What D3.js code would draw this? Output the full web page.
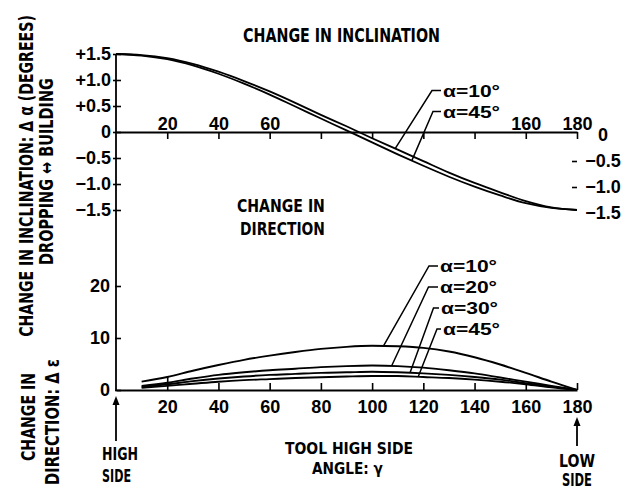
<!DOCTYPE html>
<html><head><meta charset="utf-8">
<script src="https://cdn.jsdelivr.net/npm/d3@7"></script>
<style>body{margin:0;background:#fff} svg{display:block}</style>
</head><body><svg id="c" width="629" height="490"></svg>
<script>
// ---------- DATA ----------
const gammaTop = [0,10,20,30,40,50,60,70,80,90,100,110,120,130,140,150,160,170,180];
const inclA10 = [1.5,1.48,1.42,1.31,1.16,0.98,0.78,0.56,0.33,0.11,-0.12,-0.34,-0.56,-0.78,-0.98,-1.16,-1.33,-1.45,-1.5];
const inclA45 = [1.5,1.47,1.40,1.28,1.12,0.93,0.72,0.49,0.26,0.03,-0.20,-0.43,-0.65,-0.86,-1.05,-1.22,-1.37,-1.46,-1.5];
const gammaBot = [10,20,30,40,50,60,70,80,90,100,110,120,130,140,150,160,170,180];
const dirA10 = [1.6,2.5,3.7,4.8,5.8,6.6,7.3,7.9,8.3,8.5,8.4,8.1,7.4,6.3,4.9,3.3,1.6,0];
const dirA20 = [0.8,1.4,2.2,2.9,3.4,3.8,4.1,4.4,4.6,4.7,4.6,4.3,3.8,3.2,2.4,1.6,0.8,0];
const dirA30 = [0.6,1.1,1.7,2.2,2.6,2.9,3.1,3.3,3.4,3.5,3.4,3.2,2.9,2.5,2.0,1.3,0.65,0];
const dirA45 = [0.4,0.8,1.2,1.6,1.9,2.1,2.3,2.45,2.6,2.7,2.7,2.5,2.3,2.0,1.6,1.1,0.5,0];
const inclLabels = ["α=10°","α=45°"];
const dirLabels = ["α=10°","α=20°","α=30°","α=45°"];
const topXTicks = [20,40,60,80,100,120,140,160,180];
const topXLabels = [20,40,60,160,180];
const inclTicks = [1.5,1,0.5,0,-0.5,-1,-1.5];
const inclTickLabels = ["+1.5","+1.0","+0.5","0","−0.5","−1.0","−1.5"];
const inclRightTicks = [0,-0.5,-1,-1.5];
const inclRightLabels = ["0","−0.5","−1.0","−1.5"];
const dirTicks = [0,10,20];
const botXTicks = [20,40,60,80,100,120,140,160,180];

// ---------- LAYOUT ----------
const svg = d3.select("#c");
const NUM = "'Liberation Sans',Arial,sans-serif";
const TXT = "'Liberation Sans Narrow','Arial Narrow','DejaVu Sans Condensed','Liberation Sans',sans-serif";
const x = d3.scaleLinear([0,180],[116,577]);
const yTop = d3.scaleLinear([-1.5,1.5],[210,54]);
const yBot = d3.scaleLinear([0,20],[390,286]);

function styleAxis(g){
  g.selectAll("text").attr("font-family",NUM).attr("font-weight","bold").attr("font-size",18).attr("fill","#000");
  g.selectAll("line").attr("stroke","#000").attr("stroke-width",1.6);
  g.selectAll("path.domain").attr("stroke","#000").attr("stroke-width",1.8);
}

// vertical left axis line (continuous)
svg.append("line").attr("x1",116).attr("x2",116).attr("y1",yTop(1.5)).attr("y2",yBot(0))
  .attr("stroke","#000").attr("stroke-width",1.8);

// top panel horizontal axis (ticks down)
const gTopX = svg.append("g").attr("transform",`translate(0,${yTop(0)})`)
  .call(d3.axisBottom(x).tickValues(topXTicks).tickSizeInner(7).tickSizeOuter(0).tickFormat(""));
styleAxis(gTopX);
const gTopXL = svg.append("g").attr("transform",`translate(0,${yTop(0)})`)
  .call(d3.axisTop(x).tickValues(topXLabels).tickSize(0).tickPadding(2).tickFormat(d3.format("d")));
gTopXL.select(".domain").remove();
styleAxis(gTopXL);

// top panel left ticks
const gTopY = svg.append("g").attr("transform","translate(121,0)")
  .call(d3.axisLeft(yTop).tickValues(inclTicks).tickSize(8).tickPadding(2)
    .tickFormat((d,i)=>inclTickLabels[i]));
gTopY.select(".domain").remove();
styleAxis(gTopY);

// top panel right labels
const gTopR = svg.append("g").attr("transform","translate(572,3)")
  .call(d3.axisRight(yTop).tickValues(inclRightTicks).tickSize(5)
    .tickFormat((d,i)=>inclRightLabels[i]));
gTopR.select(".domain").remove();
styleAxis(gTopR);
gTopR.selectAll("text").attr("text-anchor","middle").attr("x",31);
gTopR.selectAll(".tick line").filter(d=>d===0||d===-1.5).remove();

// bottom panel x axis (ticks up)
const gBotX = svg.append("g").attr("transform",`translate(0,${yBot(0)})`)
  .call(d3.axisBottom(x).tickValues(botXTicks).tickSizeInner(-7).tickSizeOuter(0).tickPadding(10)
    .tickFormat(d3.format("d")));
styleAxis(gBotX);
gBotX.selectAll(".tick line").filter(d=>d===20).attr("y2",-13);

// bottom panel y axis
const gBotY = svg.append("g").attr("transform","translate(121,0)")
  .call(d3.axisLeft(yBot).tickValues(dirTicks).tickSize(6).tickPadding(5).tickFormat(d3.format("d")));
gBotY.select(".domain").remove();
styleAxis(gBotY);

// ---------- CURVES ----------
const lineTop = d3.line().x((d,i)=>x(gammaTop[i])).y(d=>yTop(d)).curve(d3.curveMonotoneX);
const lineBot = d3.line().x((d,i)=>x(gammaBot[i])).y(d=>yBot(d)).curve(d3.curveMonotoneX);
[inclA10,inclA45].forEach(s=>svg.append("path").attr("d",lineTop(s)).attr("fill","none")
  .attr("stroke","#000").attr("stroke-width",1.8));
[dirA10,dirA20,dirA30,dirA45].forEach(s=>svg.append("path").attr("d",lineBot(s)).attr("fill","none")
  .attr("stroke","#000").attr("stroke-width",1.9));

// ---------- TEXT ----------
// text fitted to a target width by horizontal scaling (keeps bbox consistent)
function txt(str,px,py,o={}){
  const t = svg.append("text").text(str).attr("x",0).attr("y",0)
    .attr("font-family",o.font||TXT).attr("font-weight","bold").attr("font-size",o.size||18)
    .attr("text-anchor",o.anchor||"start").attr("fill","#000");
  let s = 1;
  if(o.w){ const n = t.node().getComputedTextLength(); if(n>0) s = o.w/n; }
  t.attr("transform",`translate(${px},${py})${o.rot?" rotate(-90)":""} scale(${s},1)`);
  return t;
}
function valAt(xs,ys,g){
  for(let i=1;i<xs.length;i++){ if(g<=xs[i]){ const t=(g-xs[i-1])/(xs[i]-xs[i-1]); return ys[i-1]+t*(ys[i]-ys[i-1]); } }
  return ys[ys.length-1];
}

txt("CHANGE IN INCLINATION",243,41.5,{w:197,size:19});
txt("CHANGE IN",237,212,{w:88});
txt("DIRECTION",240,234.5,{w:85});
txt("TOOL HIGH SIDE",285,454,{w:128,size:16.5});
txt("ANGLE: γ",312,474,{w:71,size:16.5});
txt("HIGH",102,460,{w:36});
txt("SIDE",102,482,{w:29});
txt("LOW",559,467,{w:36});
txt("SIDE",562,486,{w:30});

txt("CHANGE IN INCLINATION: Δ α (DEGREES)",33,176,{rot:true,anchor:"middle",w:322,size:19});
txt("DROPPING ↔ BUILDING",53,171.5,{rot:true,anchor:"middle",w:187,size:19});
txt("CHANGE IN",35,417,{rot:true,anchor:"middle",w:88,size:19});
txt("DIRECTION: Δ ε",59,422,{rot:true,anchor:"middle",w:126,size:19});

// arrows
function arrow(ax,y1,y2){
  svg.append("line").attr("x1",ax).attr("x2",ax).attr("y1",y1).attr("y2",y2+6)
    .attr("stroke","#000").attr("stroke-width",1.8);
  svg.append("path").attr("d",`M${ax},${y2} L${ax-3.5},${y2+9} L${ax+3.5},${y2+9} Z`).attr("fill","#000");
}
arrow(x(0),441,396);
arrow(x(180),446,417);

// leader labels
const topLead = [
  {tx:443,ty:96.5,cx:432,g:109},
  {tx:443,ty:117.5,cx:433,g:115.5}
];
[inclA10,inclA45].forEach((s,i)=>{
  const L = topLead[i];
  const ey = yTop(valAt(gammaTop,s,L.g));
  svg.append("path").attr("d",`M${L.tx-2},${L.ty-6} L${L.cx},${L.ty-6} L${x(L.g)},${ey}`)
    .attr("fill","none").attr("stroke","#000").attr("stroke-width",1.5);
  txt(inclLabels[i],L.tx,L.ty,{w:57,size:17,font:NUM});
});
const botLead = [
  {tx:440,ty:272,cx:429,g:104.4},
  {tx:440,ty:293,cx:428.5,g:107.6},
  {tx:441,ty:314,cx:433.5,g:114.8},
  {tx:443,ty:335,cx:437,g:118}
];
[dirA10,dirA20,dirA30,dirA45].forEach((s,i)=>{
  const L = botLead[i];
  const ey = yBot(valAt(gammaBot,s,L.g));
  svg.append("path").attr("d",`M${L.tx-2},${L.ty-6} L${L.cx},${L.ty-6} L${x(L.g)},${ey}`)
    .attr("fill","none").attr("stroke","#000").attr("stroke-width",1.5);
  txt(dirLabels[i],L.tx,L.ty,{w:57,size:17,font:NUM});
});
</script></body></html>
